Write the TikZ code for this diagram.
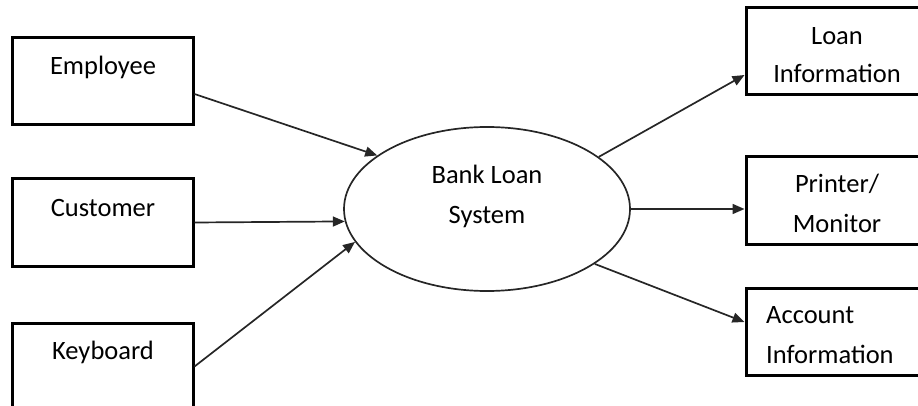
\documentclass[tikz,border=0pt]{standalone}
\usepackage{fontspec}
\setmainfont{Carlito}
\usetikzlibrary{arrows.meta,shapes.geometric}
\begin{document}
\begin{tikzpicture}[x=1pt,y=-1pt,
  box/.style={draw=black,line width=3pt,rectangle,minimum width=181pt,minimum height=87pt,inner sep=0pt},
  lbl/.style={anchor=base,inner sep=0pt,font=\fontsize{26.5}{30}\selectfont},
  flow/.style={draw=black!85,line width=1.7pt,-{Triangle[length=12pt,width=10pt]}}]
\useasboundingbox (0,0) rectangle (918,406);
% left boxes
\node[box] (emp) at (102.5,81.5) {};
\node[box] (cus) at (102.5,222.5) {};
\node[box] (kb) at (102.5,366.5) {};
\node[lbl] (empT) at (103,75) {Employee};
\node[lbl] (cusT) at (103,217) {Customer};
\node[lbl] (kbT) at (103,359) {Keyboard};
% ellipse
\node[draw=black!85,line width=1.7pt,ellipse,minimum width=286pt,minimum height=164pt,inner sep=0pt] (sys) at (487,209) {};
\node[lbl] (sysT1) at (487,184) {Bank Loan};
\node[lbl] (sysT2) at (487,223) {System};
% right boxes
\node[box] (loan) at (836.5,51) {};
\node[box] (pm) at (836.5,200.5) {};
\node[box] (acc) at (836.5,331.5) {};
\node[lbl] (loanT1) at (837,45) {Loan};
\node[lbl] (loanT2) at (837,83) {Information};
\node[lbl] (pmT1) at (837,193) {Printer/};
\node[lbl] (pmT2) at (837,233) {Monitor};
\node[lbl,anchor=base west] (accT1) at (766,323) {Account};
\node[lbl,anchor=base west] (accT2) at (766,363) {Information};
% flows
\draw[flow] ([yshift=-12.5pt]emp.east) -- (sys.154.3);
\draw[flow] (cus.east) -- (sys.185.2);
\draw[flow] (kb.east) -- (sys.194.7);
\draw[flow] (sys.25.5) -- ([yshift=-24pt]loan.west);
\draw[flow] (sys.east) -- (sys.east -| pm.west);
\draw[flow] (sys.-27.2) -- ([yshift=9.5pt]acc.west);
\end{tikzpicture}
\end{document}
